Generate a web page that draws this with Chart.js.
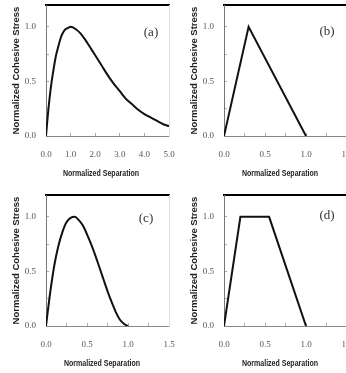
<!DOCTYPE html>
<html>
<head>
<meta charset="utf-8">
<script src="https://cdn.jsdelivr.net/npm/chart.js@4"></script>
<style>
  body { margin: 0; width: 346px; height: 373px; overflow: hidden; background: #fff; position: relative; }
  canvas { position: absolute; }
  .tag { position: absolute; font: 13px "Liberation Serif", serif; color: #333; transform: translate(-50%, -50%); }
  .xtitle { position: absolute; font: bold 9px "Liberation Sans", Arial, sans-serif; color: #222; white-space: nowrap;
            transform: translate(-50%, -50%) scaleX(0.78); }
</style>
</head>
<body>
<canvas id="chartA" width="178" height="186" style="left:0;top:0"></canvas>
<canvas id="chartB" width="178" height="186" style="left:178px;top:0"></canvas>
<canvas id="chartC" width="178" height="186" style="left:0;top:190px"></canvas>
<canvas id="chartD" width="178" height="186" style="left:178px;top:190px"></canvas>
<div class="tag" style="left:151px;top:32px">(a)</div>
<div class="tag" style="left:327px;top:31px">(b)</div>
<div class="tag" style="left:146px;top:218px">(c)</div>
<div class="tag" style="left:327px;top:215px">(d)</div>
<div class="xtitle" style="left:101px;top:173px">Normalized Separation</div>
<div class="xtitle" style="left:280px;top:173px">Normalized Separation</div>
<div class="xtitle" style="left:102px;top:363px">Normalized Separation</div>
<div class="xtitle" style="left:280px;top:363px">Normalized Separation</div>
<script>
// (a) exponential law
const sepA = [0, 0.05, 0.1, 0.2, 0.3, 0.4, 0.5, 0.6, 0.7, 0.8, 0.9, 1.0, 1.2, 1.4, 1.6, 1.8, 2.0, 2.25, 2.5, 2.75, 3.0, 3.25, 3.5, 3.75, 4.0, 4.25, 4.5, 4.75, 5.0];
const stressA = [0, 0.13, 0.25, 0.45, 0.60, 0.73, 0.82, 0.90, 0.95, 0.98, 0.99, 1.0, 0.98, 0.94, 0.88, 0.81, 0.74, 0.65, 0.56, 0.48, 0.41, 0.34, 0.29, 0.24, 0.20, 0.17, 0.14, 0.11, 0.09];

// (b) bilinear
const sepB = [0, 0.3, 1.0];
const stressB = [0, 1.0, 0];

// (c) polynomial
const sepC = [0, 0.05, 0.1, 0.15, 0.2, 0.25, 0.3, 0.35, 0.4, 0.45, 0.5, 0.55, 0.6, 0.65, 0.7, 0.75, 0.8, 0.85, 0.9, 0.95, 1.0];
const stressC = [0, 0.30, 0.55, 0.73, 0.86, 0.95, 0.99, 1.0, 0.97, 0.92, 0.84, 0.75, 0.65, 0.54, 0.43, 0.32, 0.22, 0.13, 0.06, 0.02, 0];

// (d) trapezoidal
const sepD = [0, 0.2, 0.55, 1.0];
const stressD = [0, 1.0, 1.0, 0];

const yTitle = "Normalized Cohesive Stress";

const tickFont = { family: "'Liberation Serif', serif", size: 9 };

function halfLabel(v) {
  // only label multiples of 0.5
  return Math.abs(v * 2 - Math.round(v * 2)) < 1e-6 ? v.toFixed(1) : "";
}

// fixed box size, no auto padding from labels
function fixSize(w, h) {
  return (s) => {
    if (w != null) s.width = w;
    if (h != null) s.height = h;
    s.paddingTop = 0; s.paddingBottom = 0; s.paddingLeft = 0; s.paddingRight = 0;
  };
}

function makePanel(id, xs, ys, xMax, xStep, smooth) {
  const points = xs.map((x, i) => ({ x: x, y: ys[i] }));
  new Chart(document.getElementById(id), {
    type: "line",
    data: {
      datasets: [{
        data: points,
        borderColor: "#111",
        borderWidth: 2,
        pointRadius: 0,
        fill: false,
        tension: smooth ? 0.4 : 0,
        cubicInterpolationMode: smooth ? "monotone" : "default",
      }],
    },
    options: {
      responsive: false,
      animation: false,
      devicePixelRatio: 1,
      layout: { padding: 0, autoPadding: false },
      plugins: { legend: { display: false }, tooltip: { enabled: false } },
      scales: {
        x: {
          type: "linear",
          position: "bottom",
          min: 0,
          max: xMax,
          afterFit: fixSize(null, 50),
          grid: { drawOnChartArea: false, tickLength: -3, color: "#aaa" },
          border: { color: "#888", width: 1 },
          ticks: {
            stepSize: xStep, autoSkip: false, maxRotation: 0, includeBounds: false,
            padding: 16, color: "#555", font: tickFont, callback: halfLabel,
          },
        },
        xTop: {
          type: "linear",
          position: "top",
          min: 0,
          max: xMax,
          afterFit: fixSize(null, 5),
          grid: { drawOnChartArea: false, drawTicks: false },
          border: { color: "#000", width: 2 },
          ticks: { display: false },
        },
        y: {
          type: "linear",
          position: "left",
          min: 0,
          max: 1.2,
          afterFit: fixSize(46, null),
          grid: { drawOnChartArea: false, tickLength: -3, color: "#aaa" },
          border: { color: "#777", width: 1 },
          ticks: {
            stepSize: 0.25, autoSkip: false, includeBounds: false,
            padding: 13, color: "#555", font: tickFont, callback: halfLabel,
          },
          title: {
            display: true, text: yTitle, color: "#222",
            font: { family: "'Liberation Sans', Arial, sans-serif", size: 9.5, weight: "bold" },
            padding: { top: 10.3, bottom: 0 },
          },
        },
        yRight: {
          type: "linear",
          position: "right",
          min: 0,
          max: 1.2,
          afterFit: fixSize(9, null),
          grid: { drawOnChartArea: false, drawTicks: false },
          border: { color: "#ddd", width: 1 },
          ticks: { display: false },
        },
      },
    },
  });
}

makePanel("chartA", sepA, stressA, 5, 1, true);
makePanel("chartB", sepB, stressB, 1.5, 0.25, false);
makePanel("chartC", sepC, stressC, 1.5, 0.25, true);
makePanel("chartD", sepD, stressD, 1.5, 0.25, false);
</script>
</body>
</html>
